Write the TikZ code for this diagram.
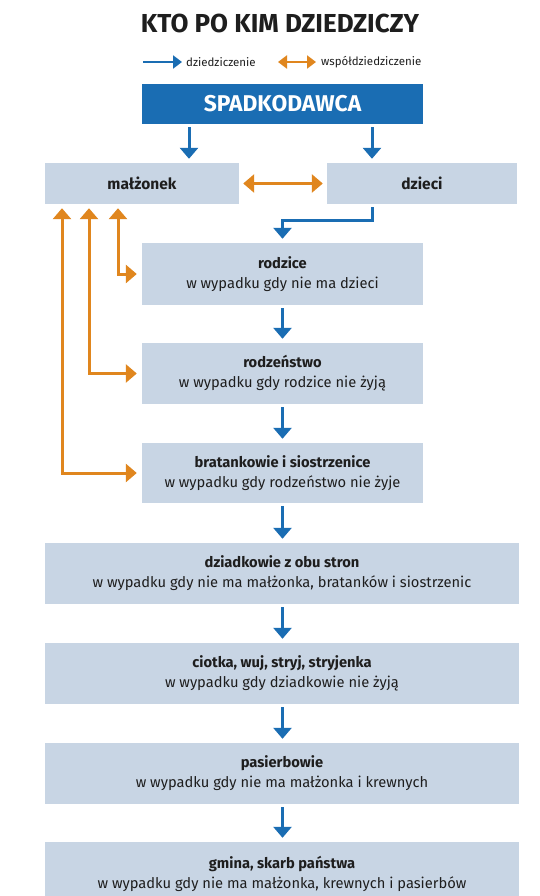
\documentclass[tikz,border=0pt]{standalone}
\usepackage{fontspec}
\setmainfont{Fira Sans}
\usetikzlibrary{arrows.meta}
\definecolor{dblue}{HTML}{1A6DB3}
\definecolor{boxfill}{HTML}{C8D5E4}
\definecolor{orng}{HTML}{E0861E}
\definecolor{txt}{HTML}{1E1E1E}
\tikzset{
 box/.style={fill=boxfill, draw=none, inner sep=0pt, align=center, text=txt, font=\fontsize{14.7}{20}\selectfont},
 btip/.tip={Triangle[width=18pt,length=11pt]},
 barrow/.style={draw=dblue, line width=3pt, -btip, shorten <=3pt, shorten >=4pt},
 oarrow/.style={draw=orng, line width=3pt, btip-btip, shorten <=5pt, shorten >=4pt},
 larrowb/.style={draw=dblue, line width=2.6pt, -{Triangle[width=13pt,length=9pt]}},
 larrowo/.style={draw=orng, line width=2.6pt, {Triangle[width=13pt,length=9pt]}-{Triangle[width=13pt,length=9pt]}},
 legtext/.style={anchor=west, inner sep=0pt, text=txt, font=\fontsize{11.5}{13}\selectfont},
}
\begin{document}
\begin{tikzpicture}[x=1pt,y=-1pt]
\useasboundingbox[fill=white] (0,0) rectangle (540,896);
\node[text=txt, font=\fontsize{26}{28}\selectfont\bfseries] (title) at (280,23) {KTO PO KIM DZIEDZICZY};
% legend
\coordinate (lb1) at (143,62); \coordinate (lb2) at (182,62);
\draw[larrowb] (lb1) -- (lb2);
\node[legtext] (lt1) at (186,62) {dziedziczenie};
\coordinate (lo1) at (278,62); \coordinate (lo2) at (316,62);
\draw[larrowo] (lo1) -- (lo2);
\node[legtext] (lt2) at (321,62) {współdziedziczenie};
% boxes
\node[box, fill=dblue, text=white, minimum width=281pt, minimum height=40pt, font=\fontsize{22.8}{24}\selectfont\bfseries] (spad) at (282.5,104) {SPADKODAWCA};
\node[box, minimum width=194pt, minimum height=41pt, font=\fontsize{15.5}{18}\selectfont\bfseries] (malz) at (142,183.5) {małżonek};
\node[box, minimum width=190pt, minimum height=41pt, font=\fontsize{15.5}{18}\selectfont\bfseries] (dzieci) at (422,183.5) {dzieci};
\node[box, minimum width=281pt, minimum height=62pt] (rodzice) at (282.5,274) {\textbf{rodzice}\\w wypadku gdy nie ma dzieci};
\node[box, minimum width=281pt, minimum height=61pt] (rodz) at (282.5,373.5) {\textbf{rodzeństwo}\\w wypadku gdy rodzice nie żyją};
\node[box, minimum width=281pt, minimum height=60pt] (brat) at (282.5,473) {\textbf{bratankowie i siostrzenice}\\w wypadku gdy rodzeństwo nie żyje};
\node[box, minimum width=474pt, minimum height=61pt] (dziad) at (282,573.5) {\textbf{dziadkowie z obu stron}\\w wypadku gdy nie ma małżonka, bratanków i siostrzenic};
\node[box, minimum width=474pt, minimum height=61pt] (ciotka) at (282,673.5) {\textbf{ciotka, wuj, stryj, stryjenka}\\w wypadku gdy dziadkowie nie żyją};
\node[box, minimum width=474pt, minimum height=61pt] (pasierb) at (282,773.5) {\textbf{pasierbowie}\\w wypadku gdy nie ma małżonka i krewnych};
\node[box, minimum width=474pt, minimum height=64pt] (gmina) at (282,874) {\textbf{gmina, skarb państwa}\\w wypadku gdy nie ma małżonka, krewnych i pasierbów};
% helper x positions
\coordinate (xl) at (189,0);
\coordinate (xr) at (372,0);
\coordinate (xel) at (220,220);
\coordinate (o1) at (62,0);
\coordinate (o2) at (89,0);
\coordinate (o3) at (118,0);
% blue arrows
\draw[barrow] (spad.south -| xl) -- (malz.north -| xl);
\draw[barrow] (spad.south -| xr) -- (dzieci.north -| xr);
\draw[barrow] (dzieci.south -| xr) -- (xel -| xr) -- (xel -| rodzice.north) -- (rodzice.north);
\draw[barrow] (rodzice.south) -- (rodz.north);
\draw[barrow] (rodz.south) -- (brat.north);
\draw[barrow] (brat.south) -- (dziad.north -| brat.south);
\draw[barrow] (dziad.south -| brat.south) -- (ciotka.north -| brat.south);
\draw[barrow] (ciotka.south -| brat.south) -- (pasierb.north -| brat.south);
\draw[barrow] (pasierb.south -| brat.south) -- (gmina.north -| brat.south);
% orange arrows
\draw[oarrow, shorten <=4pt] (malz.east) -- (dzieci.west);
\draw[oarrow] (rodzice.west) -- (rodzice.west -| o3) -- (malz.south -| o3);
\draw[oarrow] (rodz.west) -- (rodz.west -| o2) -- (malz.south -| o2);
\draw[oarrow] (brat.west) -- (brat.west -| o1) -- (malz.south -| o1);
\end{tikzpicture}
\end{document}
